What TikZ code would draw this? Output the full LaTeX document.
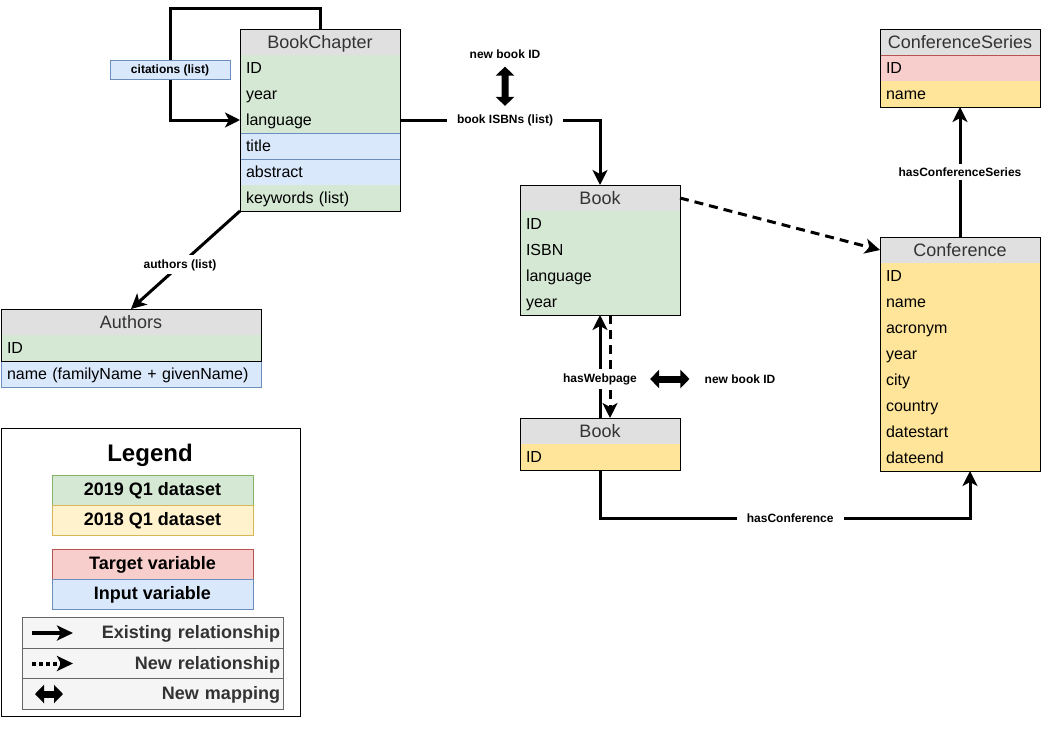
\documentclass[tikz,border=0pt]{standalone}
\usepackage{fontspec}
\setmainfont{Liberation Sans}
\usetikzlibrary{positioning,arrows.meta}

\definecolor{hdrgray}{HTML}{E0E0E0}
\definecolor{set19fill}{HTML}{D5E8D4}
\definecolor{set19line}{HTML}{82B366}
\definecolor{set18fill}{HTML}{FFF2CC}
\definecolor{set18line}{HTML}{D6B656}
\definecolor{confill}{HTML}{FFE599}
\definecolor{tgtfill}{HTML}{F8CECC}
\definecolor{tgtline}{HTML}{B85450}
\definecolor{inpfill}{HTML}{DAE8FC}
\definecolor{inpline}{HTML}{6C8EBF}
\definecolor{keyfill}{HTML}{F5F5F5}
\definecolor{keyline}{HTML}{666666}
\definecolor{keytext}{HTML}{333333}

\newcommand{\hdrfont}{\fontsize{18}{21}\selectfont}
\newcommand{\attrfont}{\fontsize{16}{19}\selectfont}
\newcommand{\lblfont}{\fontsize{12}{14}\selectfont\bfseries}
\newcommand{\keyfont}{\fontsize{18}{21}\selectfont\bfseries}

\begin{document}
\begin{tikzpicture}[x=1pt,y=-1pt,
    hdr/.style={draw, line width=0.9pt, fill=hdrgray, text=keytext, minimum width=160pt,
      minimum height=26pt, inner sep=0pt, outer sep=0pt, text height=14pt, text depth=2pt,
      font=\hdrfont},
    attr/.style={line width=0.9pt, minimum width=160pt, text width=148pt, minimum height=26pt,
      inner xsep=6pt, inner ysep=0pt, outer sep=0pt, text height=13pt, text depth=2pt,
      align=left, font=\attrfont},
    wide/.style={minimum width=260pt, text width=248pt},
    set19/.style={fill=set19fill},
    set18/.style={fill=confill},
    tgt/.style={fill=tgtfill, draw=tgtline},
    inp/.style={fill=inpfill, draw=inpline},
    tbl/.style={draw, line width=0.9pt},
    rel/.style={line width=3pt, -{Stealth[length=15pt,width=15pt,inset=4pt]}},
    newrel/.style={rel, dash pattern=on 9pt off 6pt},
    mapping/.style={line width=7pt, {Triangle[length=9pt,width=18pt]}-{Triangle[length=9pt,width=18pt]}},
    lbl/.style={fill=white, font=\lblfont, inner xsep=10pt, inner ysep=4pt},
    citebox/.style={fill=inpfill, draw=inpline, line width=0.9pt, font=\lblfont,
      minimum width=120pt, minimum height=19pt, inner sep=0pt},
    key/.style={line width=0.9pt, minimum width=201pt, minimum height=30pt, inner sep=0pt,
      outer sep=0pt, text height=13pt, text depth=2pt, font=\keyfont},
    relkey/.style={fill=keyfill, draw=keyline, line width=0.9pt, text=keytext, minimum width=261pt,
      text width=255pt, inner xsep=3pt, minimum height=30.5pt, outer sep=0pt, text height=13pt,
      text depth=2pt, align=right, font=\keyfont},
    legarrow/.style={line width=4pt, -{Stealth[length=16pt,width=15pt,inset=4pt]}}
  ]
  \useasboundingbox (0,0) rectangle (1041,747);

  % BookChapter
  \node[hdr] (bc-hdr) at (320,42) {BookChapter};
  \node[attr,set19,below=0pt of bc-hdr] (bc-id) {ID};
  \node[attr,set19,below=0pt of bc-id] (bc-year) {year};
  \node[attr,set19,below=0pt of bc-year] (bc-lang) {language};
  \node[attr,inp,below=0pt of bc-lang] (bc-title) {title};
  \node[attr,inp,below=0pt of bc-title] (bc-abs) {abstract};
  \node[attr,set19,below=0pt of bc-abs] (bc-kw) {keywords (list)};
  \draw[tbl] (bc-hdr.north west) rectangle (bc-kw.south east);

  % Authors
  \node[hdr,minimum width=260pt] (au-hdr) at (131,322) {Authors};
  \node[attr,wide,set19,below=0pt of au-hdr] (au-id) {ID};
  \node[attr,wide,inp,below=0pt of au-id] (au-name) {name (familyName + givenName)};
  \draw[tbl] (au-hdr.north west) rectangle (au-id.south east);

  % Book
  \node[hdr] (book-hdr) at (600,198) {Book};
  \node[attr,set19,below=0pt of book-hdr] (book-id) {ID};
  \node[attr,set19,below=0pt of book-id] (book-isbn) {ISBN};
  \node[attr,set19,below=0pt of book-isbn] (book-lang) {language};
  \node[attr,set19,below=0pt of book-lang] (book-year) {year};
  \draw[tbl] (book-hdr.north west) rectangle (book-year.south east);

  % Book (webpage side)
  \node[hdr] (b2-hdr) at (600,431) {Book};
  \node[attr,set18,below=0pt of b2-hdr] (b2-id) {ID};
  \draw[tbl] (b2-hdr.north west) rectangle (b2-id.south east);

  % ConferenceSeries
  \node[hdr] (cs-hdr) at (960,42) {ConferenceSeries};
  \node[attr,tgt,below=0pt of cs-hdr] (cs-id) {ID};
  \node[attr,set18,below=0pt of cs-id] (cs-name) {name};
  \draw[tbl] (cs-hdr.north west) rectangle (cs-name.south east);

  % Conference
  \node[hdr] (cf-0) at (960,250) {Conference};
  \foreach \t [count=\i, remember=\i as \j (initially 0)] in
      {ID,name,acronym,year,city,country,datestart,dateend}
    \node[attr,set18,below=0pt of cf-\j] (cf-\i) {\t};
  \draw[tbl] (cf-0.north west) rectangle (cf-8.south east);

  % relations
  \draw[rel] (bc-hdr.north) -- ++(0,-21) -| ([xshift=-70pt]bc-lang.west) -- (bc-lang.west);
  \node[citebox] (cite) at (170,70) {citations (list)};

  \draw[rel] (bc-lang.east) -| node[lbl,pos=0.2625] (isbn) {book ISBNs (list)} (book-hdr.north);
  \node[lbl] (newid1) at (505,54) {new book ID};
  \draw[mapping, shorten <=4pt, shorten >=3pt] (newid1) -- (isbn);

  \draw[rel] (bc-kw.south west) -- node[lbl,pos=0.55] {authors (list)} (au-hdr.north);

  \draw[newrel] (book-hdr.east) -- (cf-0.west);
  \draw[rel] (cf-0.north) -- node[lbl] {hasConferenceSeries} (cs-name.south);

  \draw[rel] (b2-hdr.north) -- (book-year.south);
  \draw[newrel] ([xshift=10pt]book-year.south) -- ([xshift=10pt]b2-hdr.north);
  \node[lbl] (web) at (600,379) {hasWebpage};
  \node[lbl] (newid2) at (740,379) {new book ID};
  \draw[mapping, shorten <=3pt, shorten >=5pt] (web) -- (newid2);

  \draw[rel] (b2-id.south) -- ++(0,48) -| node[lbl,pos=0.257] {hasConference} ([xshift=10pt]cf-8.south);

  % legend
  \node[tbl, minimum width=299pt, minimum height=288pt] (legend) at (150.5,572) {};
  \node[font=\fontsize{24}{28}\selectfont\bfseries] (leg-title) at (150,455) {Legend};
  \node[key, fill=set19fill, draw=set19line] (k19) at (152.5,490) {2019 Q1 dataset};
  \node[key, fill=set18fill, draw=set18line, below=0pt of k19] (k18) {2018 Q1 dataset};
  \node[key, fill=tgtfill, draw=tgtline] (ktgt) at (152.5,564) {Target variable};
  \node[key, fill=inpfill, draw=inpline, below=0pt of ktgt] (kinp) {Input variable};
  \node[relkey] (kex) at (152.5,633) {Existing relationship};
  \node[relkey, below=0pt of kex] (knew) {New relationship};
  \node[relkey, below=0pt of knew] (kmap) {New mapping};
  \draw[legarrow] ([xshift=10pt]kex.west) -- ++(41,0);
  \draw[legarrow, dash pattern=on 4pt off 3pt] ([xshift=10pt]knew.west) -- ++(41,0);
  \draw[mapping] ([xshift=13pt]kmap.west) -- ++(28,0);
\end{tikzpicture}
\end{document}
